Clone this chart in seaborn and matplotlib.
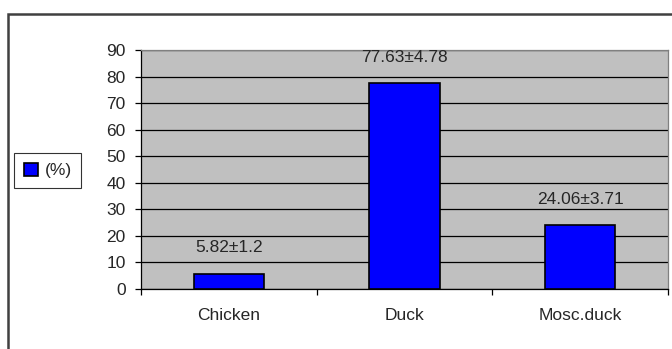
import matplotlib
matplotlib.use("Agg")
import matplotlib.pyplot as plt
import seaborn as sns
import pandas as pd
from matplotlib.patches import Rectangle

categories = ["Chicken", "Duck", "Mosc.duck"]
values = [5.82, 77.63, 24.06]
labels = ["5.82±1.2", "77.63±4.78", "24.06±3.71"]
yticks = [0, 10, 20, 30, 40, 50, 60, 70, 80, 90]
series_name = "(%)"

sns.set_style("white")
plt.rcParams['font.family'] = ['Liberation Sans', 'DejaVu Sans']
FS = 12.5

fig = plt.figure(figsize=(6.72, 3.49), dpi=100)
fig.patch.set_facecolor("white")
W, H = 672, 349
ax = fig.add_axes([141 / W, 1 - 289 / H, (668 - 141) / W, (289 - 50) / H])
ax.set_facecolor("#C0C0C0")

df = pd.DataFrame({"cat": categories, "val": values})
sns.barplot(data=df, x="cat", y="val", color="#0000FF", edgecolor="black",
            linewidth=1.2, width=0.4, saturation=1, label=series_name, ax=ax, zorder=3)

ax.set_xlim(-0.5, 2.5)
ax.set_ylim(0, 90)
ax.set_yticks(yticks)
ax.set_xlabel("")
ax.set_ylabel("")
ax.grid(axis="y", color="black", linewidth=0.9, zorder=1)
ax.set_axisbelow(True)

for s in ["top", "right"]:
    ax.spines[s].set_color("#808080")
    ax.spines[s].set_linewidth(0.9)
for s in ["left", "bottom"]:
    ax.spines[s].set_color("black")
    ax.spines[s].set_linewidth(0.9)

ax.tick_params(axis="y", which="major", direction="out", length=4, width=0.9,
               color="black", pad=7, labelsize=FS, left=True)
ax.set_xticks([0, 1, 2])
ax.set_xticklabels(categories)
ax.set_xticks([-0.5, 0.5, 1.5, 2.5], minor=True)
ax.tick_params(axis="x", which="major", length=0, pad=14, labelsize=FS)
ax.tick_params(axis="x", which="minor", direction="out", length=4, width=0.9,
               color="black", bottom=True)

for i, (v, t) in enumerate(zip(values, labels)):
    ax.annotate(t, xy=(i, v), xytext=(0, 18.5), textcoords="offset points",
                ha="center", va="center", fontsize=FS)

leg = ax.legend(loc="center left", bbox_to_anchor=(14 / W, 1 - 170.5 / H),
                bbox_transform=fig.transFigure, frameon=True, fancybox=False,
                fontsize=FS, handlelength=0.85, handleheight=0.85,
                handletextpad=0.35, borderpad=0.55, borderaxespad=0)
leg.get_frame().set_edgecolor("black")
leg.get_frame().set_linewidth(0.8)

fig.patches.append(Rectangle((8 / W, -0.1), 1.0, 1 - 14 / H + 0.1,
                             transform=fig.transFigure, fill=False,
                             edgecolor="#404040", linewidth=1.8, zorder=0))

fig.savefig("out.png", dpi=100)
